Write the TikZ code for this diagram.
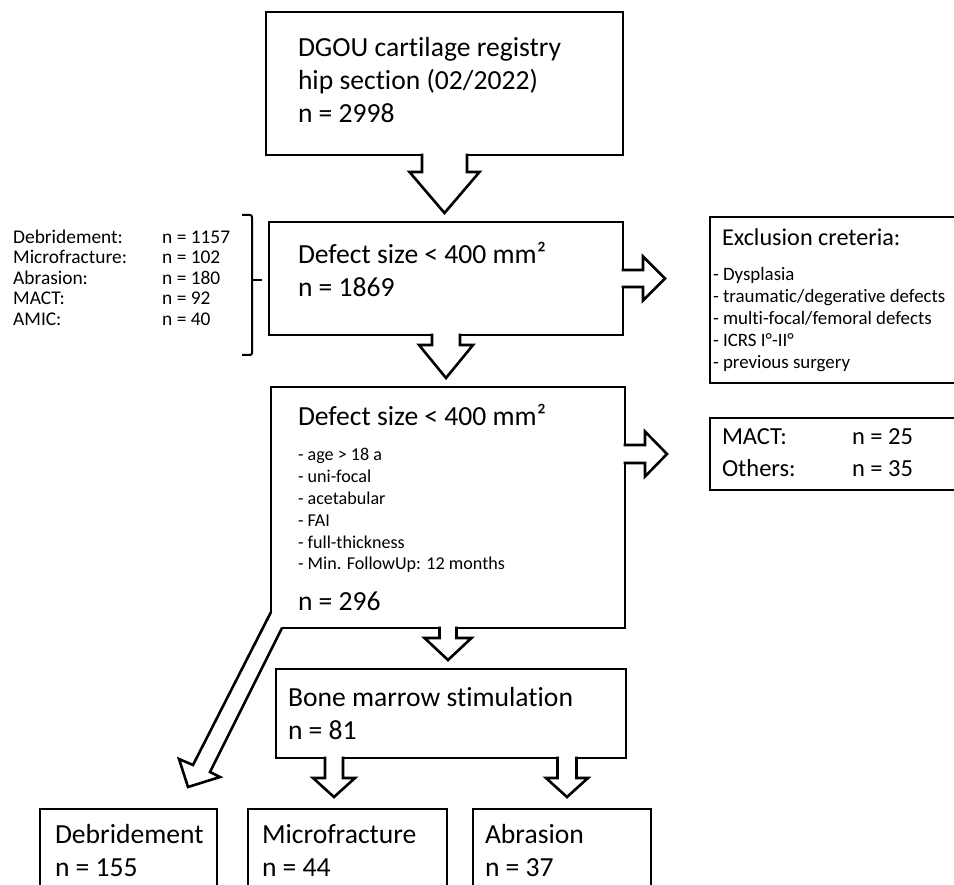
\documentclass[tikz,border=0pt]{standalone}
\usepackage{fontspec}
\setmainfont{Carlito}[Ligatures=CommonOff]
\setlength{\parindent}{0pt}

\tikzset{
  outl/.style={line width=2.6pt},
  box/.style={draw, outl, anchor=north west, outer sep=0pt, inner ysep=0pt, align=flush left,
    font=\fontsize{27.6}{33}\selectfont},
  brk/.style={line width=2pt, rounded corners=2pt},
  pics/downblk/.style n args={4}{code={%
    \filldraw[outl, fill=white] (-#1,-1.3) -- (-#1,#3) -- (-#2,#3) -- (0,#4) -- (#2,#3) -- (#1,#3) -- (#1,-1.3);
  }},
}

\begin{document}
\begin{tikzpicture}[x=1pt,y=-1pt]
\path[use as bounding box, fill=white] (0,0) rectangle (954,885);

\node[box, minimum width=357pt, minimum height=143pt, inner xsep=32pt, text width=293pt] (registry) at (266,12)
  {DGOU cartilage registry\\hip section (02/2022)\\n = 2998\rule[-8pt]{0pt}{8pt}};
\node[box, minimum width=354pt, minimum height=113pt, inner xsep=29pt, text width=296pt] (size) at (269,222)
  {Defect size < 400 mm²\\n = 1869\rule[-19pt]{0pt}{19pt}};
\node[box, minimum width=354pt, minimum height=241pt, inner xsep=27pt, text width=300pt] (criteria) at (271,387)
  {Defect size < 400 mm²\par
   \vspace{14pt}
   {\fontsize{18.1}{21.8}\selectfont - age > 18 a\\- uni-focal\\- acetabular\\- FAI\\- full-thickness\\- Min. FollowUp: 12 months\par}
   \vspace{8pt}
   n = 296};
\node[box, minimum width=260pt, minimum height=166pt, inner xsep=12pt, text width=236pt] (excl) at (710,217)
  {{\fontsize{24.2}{29}\selectfont Exclusion creteria:\par}
   \vspace{13pt}
   {\leftskip=-9pt \fontsize{18.9}{22}\selectfont - Dysplasia\\- traumatic/degerative defects\\- multi-focal/femoral defects\\- ICRS I°-II°\\- previous surgery\par}};
\node[box, minimum width=260pt, minimum height=72pt, inner xsep=12pt, text width=236pt,
  font=\fontsize{24.5}{32}\selectfont] (others) at (710,418)
  {\begin{tabular}{@{}p{130pt}@{}l@{}}MACT: & n = 25\\Others: & n = 35\end{tabular}};
\node[box, minimum width=350pt, minimum height=89pt, inner xsep=12pt, text width=326pt] (bms) at (276,669)
  {Bone marrow stimulation\\n = 81};
\node[box, minimum width=177pt, minimum height=83pt, inner xsep=15pt, text width=147pt] (deb) at (40,809)
  {Debridement\\n = 155};
\node[box, minimum width=199pt, minimum height=83pt, inner xsep=14pt, text width=171pt] (micro) at (248,809)
  {Microfracture\\n = 44};
\node[box, minimum width=178pt, minimum height=83pt, inner xsep=12pt, text width=154pt] (abr) at (473,809)
  {Abrasion\\n = 37};

\node[anchor=west, inner sep=0pt, font=\fontsize{19.4}{20.5}\selectfont] (methods) at (13,280)
  {\begin{tabular}{@{}p{149pt}@{}l@{}}
   Debridement: & n = 1157\\
   Microfracture: & n = 102\\
   Abrasion: & n = 180\\
   MACT: & n = 92\\
   AMIC: & n = 40
   \end{tabular}};
\coordinate (brace) at (252,280);
\draw[brk] (242,215) -- (252,215) -- (252,355) -- (242,355);
\draw[line width=2pt] (brace) -- ++(10,0);

\pic at (registry.south) {downblk={22.5}{35}{17}{58}};
\pic at (size.south) {downblk={14}{27}{10}{43}};
\pic[rotate=90] at (size.east) {downblk={8.5}{22}{20}{42}};
\pic at (criteria.south) {downblk={8.5}{23.5}{10}{32}};
\pic[rotate=90] at ([yshift=53.5pt]criteria.east) {downblk={9}{22.5}{20}{42}};
\pic at ([xshift=-117pt]bms.south) {downblk={9}{21}{20}{39}};
\pic at ([xshift=116pt]bms.south) {downblk={9.5}{21}{20}{39}};

\begin{scope}[shift={(criteria.south west)}]
\fill[white] (-1.6,-16) rectangle (11,1.6);
\draw[outl, line cap=round] (0,-16) -- (-78,137) -- (-92,131) -- (-83,159) -- (-51,149) -- (-61,144) -- (11,0);
\end{scope}
\end{tikzpicture}
\end{document}
